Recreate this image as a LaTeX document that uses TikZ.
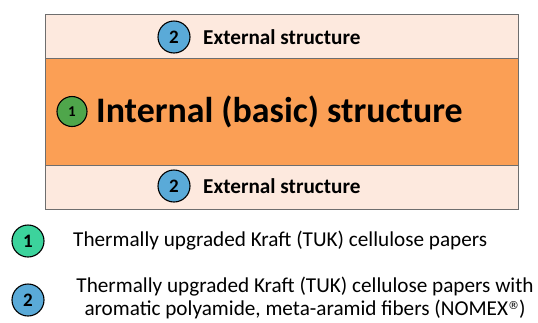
\documentclass[tikz,border=0pt]{standalone}
\usepackage{fontspec}
\setmainfont{Carlito}
\newfontfamily\symfont{DejaVu Sans}
\definecolor{bandpink}{HTML}{FDE9DE}
\definecolor{bandorange}{HTML}{FB9F55}
\definecolor{circblue}{HTML}{5AAAD8}
\definecolor{circgreen}{HTML}{4FA64B}
\definecolor{circteal}{HTML}{3CD39C}
\definecolor{edgegray}{HTML}{6E6E6E}
\newcommand{\regmark}{\raisebox{0.6ex}{\symfont\fontsize{11}{11}\selectfont ®}}
\tikzset{
  numcirc/.style={circle, draw=black, line width=1.1pt, minimum size=32pt, inner sep=0pt, font=\bfseries\fontsize{19}{20}\selectfont},
  bandbox/.style={draw=edgegray, line width=0.8pt},
  exttext/.style={anchor=west, inner sep=0pt, font=\bfseries\fontsize{21.2}{24}\selectfont},
  legtext/.style={inner sep=0pt, font=\fontsize{21.2}{22.5}\selectfont, align=center}
}
\begin{document}
\begin{tikzpicture}[x=1pt,y=-1pt]
\useasboundingbox (0,0) rectangle (538,322);
% bands
\node[bandbox, fill=bandpink, minimum width=473pt, minimum height=44pt, anchor=north west, inner sep=0pt] (top) at (45,14) {};
\node[bandbox, fill=bandorange, minimum width=473pt, minimum height=107pt, anchor=north west, inner sep=0pt] (mid) at (45,58) {};
\node[bandbox, fill=bandpink, minimum width=473pt, minimum height=44pt, anchor=north west, inner sep=0pt] (bot) at (45,165) {};
% top band
\node[numcirc, fill=circblue] (c2t) at (174,37) {2};
\node[exttext] (t2t) at (203,37.5) {External structure};
% middle band
\node[numcirc, fill=circgreen, minimum size=30pt, font=\bfseries\fontsize{15}{16}\selectfont] (c1m) at (72,111.5) {1};
\node[anchor=west, inner sep=0pt, font=\bfseries\fontsize{35.9}{40}\selectfont] (t1m) at (96,112) {Internal (basic) structure};
% bottom band
\node[numcirc, fill=circblue] (c2b) at (174,186) {2};
\node[exttext] (t2b) at (203,186.5) {External structure};
% legend
\node[numcirc, fill=circteal] (l1) at (28,241) {1};
\node[legtext, anchor=west] (lt1) at (73,241) {Thermally upgraded Kraft (TUK) cellulose papers};
\node[numcirc, fill=circblue] (l2) at (28,300) {2};
\node[legtext] (lt2) at (305,298) {Thermally upgraded Kraft (TUK) cellulose papers with\\aromatic polyamide, meta-aramid fibers (NOMEX\regmark)};
\end{tikzpicture}
\end{document}
